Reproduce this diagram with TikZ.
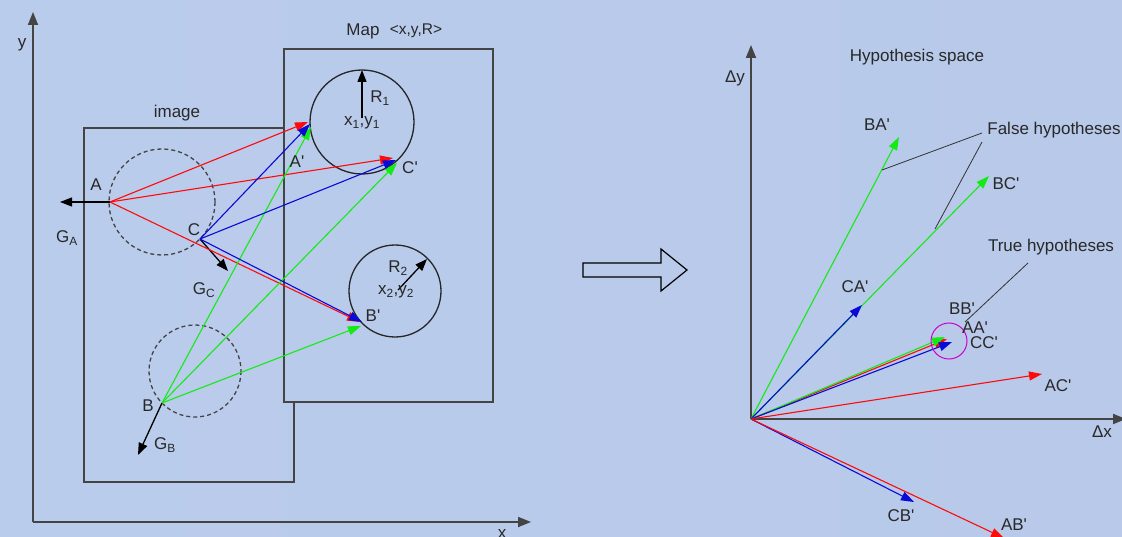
\documentclass[tikz,border=0pt]{standalone}
\usepackage{fontspec}
\setmainfont{Liberation Sans}
\usetikzlibrary{arrows.meta}
\newcommand{\pq}{\textquotesingle}
\definecolor{bgA}{RGB}{186,204,235}
\definecolor{bgB}{RGB}{170,189,229}
\definecolor{bgC}{RGB}{184,201,234}
\definecolor{lin}{RGB}{68,68,68}
\definecolor{txt}{RGB}{40,40,40}
\definecolor{myred}{RGB}{255,10,10}
\definecolor{mygreen}{RGB}{20,235,20}
\definecolor{myblue}{RGB}{10,10,215}
\definecolor{mag}{RGB}{205,0,205}
\begin{document}
\begin{tikzpicture}[x=1pt,y=-1pt,
  font=\fontsize{17}{19}\selectfont,
  every node/.style={text=txt, inner sep=0pt},
  axis/.style={draw=lin, line width=1.8pt, -{Triangle[length=13pt,width=10pt]}},
  box/.style={draw=lin, line width=1.4pt},
  dcirc/.style={draw=lin, line width=1.3pt, dash pattern=on 4pt off 3pt},
  circ/.style={draw=black!85, line width=1.3pt},
  grad/.style={draw=black, line width=1.3pt, -{Triangle[length=12pt,width=9pt]}},
  vec/.style={line width=1.1pt, -{Triangle[length=13pt,width=9pt]}},
  pointer/.style={draw=black!80, line width=0.8pt},
  small/.style={font=\fontsize{15.5}{17}\selectfont}]
\useasboundingbox (0,0) rectangle (1122,537);
\shade[left color=bgA, middle color=bgB, right color=bgC] (0,0) rectangle (1122,537);

% ---------- left panel axes
\coordinate (O1) at (33,522);
\coordinate (Y1) at (33,12);
\coordinate (X1) at (531,522);
\draw[axis] (O1) -- (Y1);
\draw[axis] (O1) -- (X1);
\node (ly) at (22,45) {y};
\node (lx) at (502,534) {x};

% image frame (partly hidden by map)
\draw[box] (284,128) -- (84,128) -- (84,482) -- (294,482) -- (294,402);
\node (limage) at (177,113) {image};
% map frame
\draw[box] (284,49) rectangle (493,402);
\node (lmap) at (363,31) {Map};
\node[small] (lxyr) at (416,31) {<x,y,R>};

% dashed circles
\draw[dcirc] (162,202) circle (53);
\draw[dcirc] (195,371) circle (46);

% map circles
\coordinate (c1) at (362,122);
\coordinate (c2) at (395,291);
\draw[circ] (c1) circle (52);
\draw[circ] (c2) circle (46);
\coordinate (r1s) at (362,118);
\coordinate (r1e) at (362,70);
\coordinate (r2s) at (398,290);
\coordinate (r2e) at (427,259);
\draw[grad] (r1s) -- (r1e);
\draw[grad] (r2s) -- (r2e);
\node (lR1) at (380,98) {R\textsubscript{1}};
\node (lxy1) at (362,123) {x\textsubscript{1},y\textsubscript{1}};
\node (lR2) at (398,268) {R\textsubscript{2}};
\node (lxy2) at (396,292) {x\textsubscript{2},y\textsubscript{2}};

% points
\coordinate (A) at (110,202);
\coordinate (C) at (200,239);
\coordinate (B) at (162,403);
\coordinate (Apr) at (308,122);
\coordinate (Apb) at (310,124);
\coordinate (Apg) at (311,127);
\coordinate (Cpr) at (393,158);
\coordinate (Cpb) at (396,160);
\coordinate (Cpg) at (397,163);
\coordinate (Bpr) at (360,322);
\coordinate (Bpb) at (362,322);
\coordinate (Bpg) at (361,326);

% gradient arrows
\coordinate (GAe) at (60,202);
\coordinate (GCe) at (228,271);
\coordinate (GBe) at (138,455);
\draw[grad] (A) -- (GAe);
\draw[grad] (C) -- (GCe);
\draw[grad] (B) -- (GBe);

% correspondence vectors
\draw[vec, myred] (A) -- (Apr);
\draw[vec, myred] (A) -- (Cpr);
\draw[vec, myred] (A) -- (Bpr);
\draw[vec, mygreen] (B) -- (Apg);
\draw[vec, mygreen] (B) -- (Cpg);
\draw[vec, mygreen] (B) -- (Bpg);
\draw[vec, myblue] (C) -- (Apb);
\draw[vec, myblue] (C) -- (Cpb);
\draw[vec, myblue] (C) -- (Bpb);

\node (lA) at (96,185) {A};
\node (lGA) at (67,238) {G\textsubscript{A}};
\node (lC) at (194,230) {C};
\node (lGC) at (204,290) {G\textsubscript{C}};
\node (lB) at (148,406) {B};
\node (lGB) at (165,445) {G\textsubscript{B}};
\node (lAp) at (297,162) {A\pq};
\node (lCp) at (410,168) {C\pq};
\node (lBp) at (373,316) {B\pq};

% ---------- big hollow arrow
\draw[draw=black, line width=1.2pt] (583,263) -- (661,263) -- (661,249) -- (687,270) -- (661,291) -- (661,277) -- (583,277) -- cycle;

% ---------- right panel
\coordinate (O2) at (751,419);
\coordinate (Y2) at (751,45);
\coordinate (X2) at (1126,419);
\draw[axis] (O2) -- (Y2);
\draw[axis] (O2) -- (X2);
\node (ldy) at (735,78) {Δy};
\node (ldx) at (1102,432) {Δx};
\node (lhs) at (917,57) {Hypothesis space};

\coordinate (BA) at (899,137);
\coordinate (BC) at (989,176);
\coordinate (CA) at (862,305);
\coordinate (AAe) at (947,339);
\coordinate (BBe) at (945,337);
\coordinate (CCe) at (952,342);
\coordinate (AC) at (1042,374);
\coordinate (CB) at (914,502);
\coordinate (AB) at (1004,538);

\draw[vec, mygreen] (O2) -- (BA);
\draw[vec, mygreen] (O2) -- (BC);
\draw[vec, myblue] (O2) -- (CA);
\draw[vec, myred] (O2) -- (AAe);
\draw[vec, mygreen] (O2) -- (BBe);
\draw[vec, myblue] (O2) -- (CCe);
\draw[vec, myred] (O2) -- (AC);
\draw[vec, myblue] (O2) -- (CB);
\draw[vec, myred] (O2) -- (AB);

\coordinate (mc) at (949,341);
\draw[draw=mag, line width=1pt] (mc) circle (18);

% pointers
\coordinate (F1s) at (982,133);
\coordinate (F1e) at (882,170);
\coordinate (F2s) at (982,142);
\coordinate (F2e) at (935,229);
\coordinate (Ts) at (1028,263);
\coordinate (Te) at (965,322);
\draw[pointer] (F1s) -- (F1e);
\draw[pointer] (F2s) -- (F2e);
\draw[pointer] (Ts) -- (Te);

\node (lfalse) at (1054,130) {False hypotheses};
\node (ltrue) at (1051,247) {True hypotheses};
\node (lBA) at (877,125) {BA\pq};
\node (lBC) at (1006,184) {BC\pq};
\node (lCA) at (855,287) {CA\pq};
\node (lBB) at (962,309) {BB\pq};
\node (lAA) at (975,328) {AA\pq};
\node (lCC) at (984,343) {CC\pq};
\node (lAC) at (1058,386) {AC\pq};
\node (lCB) at (901,516) {CB\pq};
\node (lAB) at (1014,525) {AB\pq};
\end{tikzpicture}
\end{document}
